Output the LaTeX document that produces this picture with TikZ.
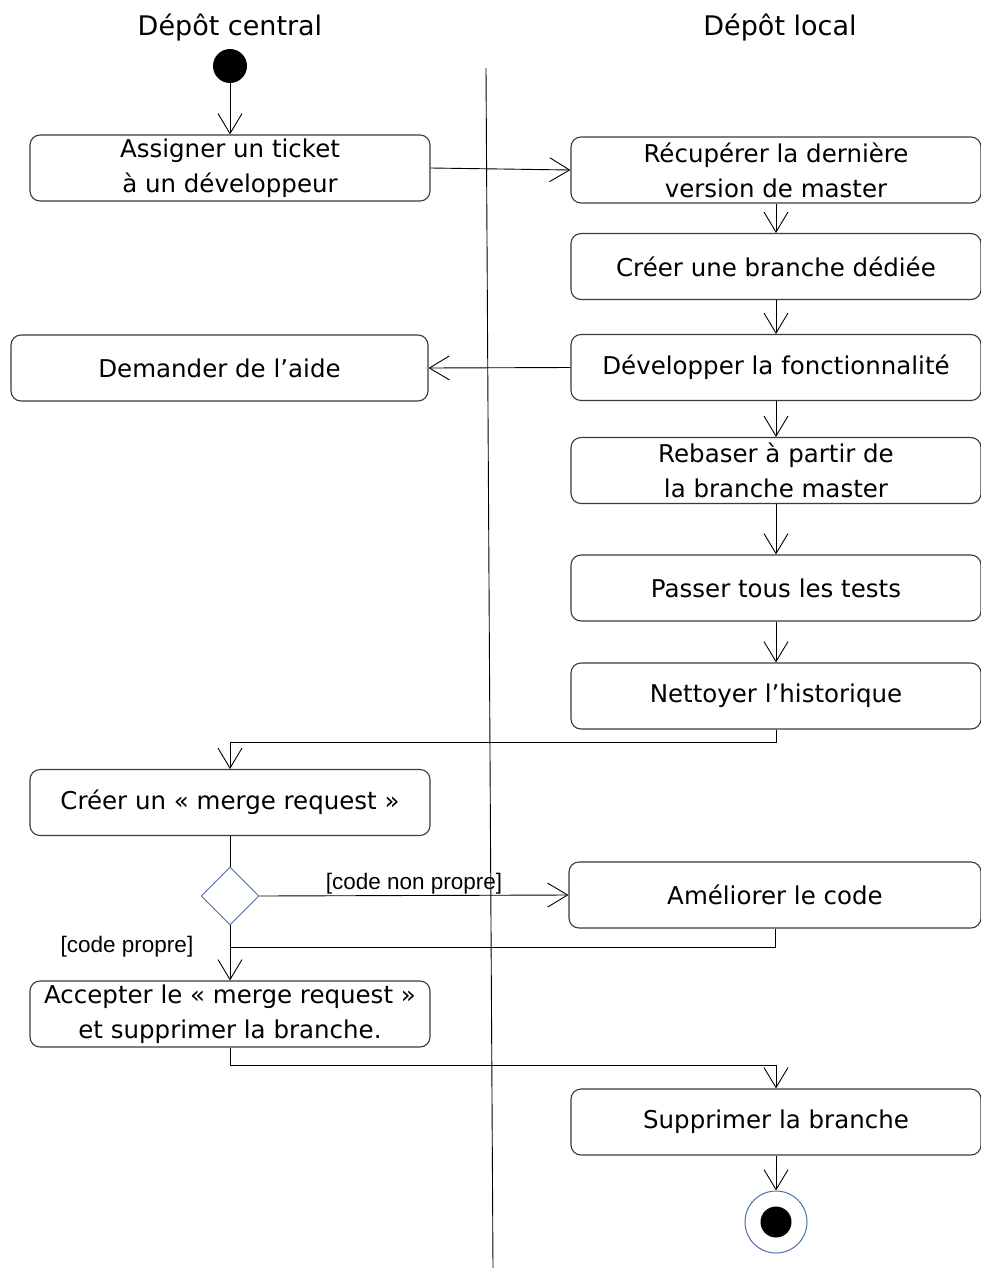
\documentclass[tikz,border=0pt]{standalone}
\usepackage{fontspec}
\setmainfont{DejaVu Sans}
\newfontfamily\guardfont{Liberation Sans}
\usetikzlibrary{arrows.meta,shapes.geometric,calc}
\definecolor{uml}{HTML}{4A6FA8}
\definecolor{boxline}{HTML}{3A3A3A}
\tikzset{
  act/.style={draw=boxline, line width=1.1pt, rounded corners=10pt, align=center,
    font=\fontsize{24.5}{35}\selectfont, inner sep=0pt, minimum height=66pt},
  lbox/.style={act, minimum width=400pt},
  rbox/.style={act, minimum width=410pt},
  flow/.style={line width=0.9pt, -{Straight Barb[length=20pt,width=24pt]}},
  plain/.style={line width=0.9pt},
  lane/.style={font=\fontsize{27}{30}\selectfont},
  guard/.style={font=\guardfont\fontsize{22.5}{26}\selectfont, inner sep=0pt}
}
\begin{document}
\begin{tikzpicture}[x=1pt,y=-1pt]
\useasboundingbox (0,0) rectangle (981,1274);
% lane titles
\node[lane] (tc) at (230,28) {Dépôt central};
\node[lane] (tl) at (780,28) {Dépôt local};
% swimlane separator
\draw[line width=0.9pt] (486,68) -- (493,1268);
% start
\node[circle, fill=black, minimum size=34pt, inner sep=0pt] (start) at (230,66) {};
% left column
\node[lbox] (assign) at (230,168) {Assigner un ticket\\à un développeur};
\node[act, minimum width=417pt] (aide) at (219.5,368) {Demander de l’aide};
\node[lbox] (cmr) at (230,802.5) {Créer un « merge request »};
\node[diamond, draw=uml, line width=0.9pt, minimum width=58pt, minimum height=58pt, inner sep=0pt] (dec) at (230,896) {};
\node[lbox] (acc) at (230,1014) {Accepter le « merge request »\\et supprimer la branche.};
% right column
\node[rbox] (recup) at (776,170) {Récupérer la dernière\\version de master};
\node[rbox] (branche) at (776,266.5) {Créer une branche dédiée};
\node[rbox] (dev) at (776,367.5) {Développer la fonctionnalité};
\node[rbox] (rebase) at (776,470.5) {Rebaser à partir de\\la branche master};
\node[rbox] (tests) at (776,588) {Passer tous les tests};
\node[rbox] (histo) at (776,696) {Nettoyer l’historique};
\node[rbox, minimum width=412pt] (amel) at (775,895) {Améliorer le code};
\node[rbox] (supp) at (776,1122) {Supprimer la branche};
% final node
\node[circle, draw=uml, line width=1pt, minimum size=62pt, inner sep=0pt] (fin) at (776,1222) {};
\node[circle, fill=black, minimum size=31pt, inner sep=0pt] (finin) at (fin.center) {};
% guards
\node[guard] (g1) at (414,884) {[code non propre]};
\node[guard] (g2) at (127,947) {[code propre]};
% junction coordinates
\coordinate (j1) at (230,742);
\coordinate (j2) at (230,947);
% connectors
\draw[flow] (start) -- (assign);
\draw[flow] (assign.east) -- (recup.west);
\draw[flow] (recup) -- (branche);
\draw[flow] (branche) -- (dev);
\draw[flow] (dev.west) -- (aide.east);
\draw[flow] (dev) -- (rebase);
\draw[flow] (rebase) -- (tests);
\draw[flow] (tests) -- (histo);
\draw[plain] (histo.south) |- (j1);
\draw[flow] (j1) -- (cmr.north);
\draw[plain] (cmr.south) -- (dec.north);
\draw[flow] (dec.east) -- (amel.west);
\draw[flow] (dec.south) -- (acc.north);
\draw[plain] (amel.south) |- (j2);
\draw[flow] (acc.south) -- ++(0,18) -| (supp.north);
\draw[flow] (supp) -- (fin);
\end{tikzpicture}
\end{document}
